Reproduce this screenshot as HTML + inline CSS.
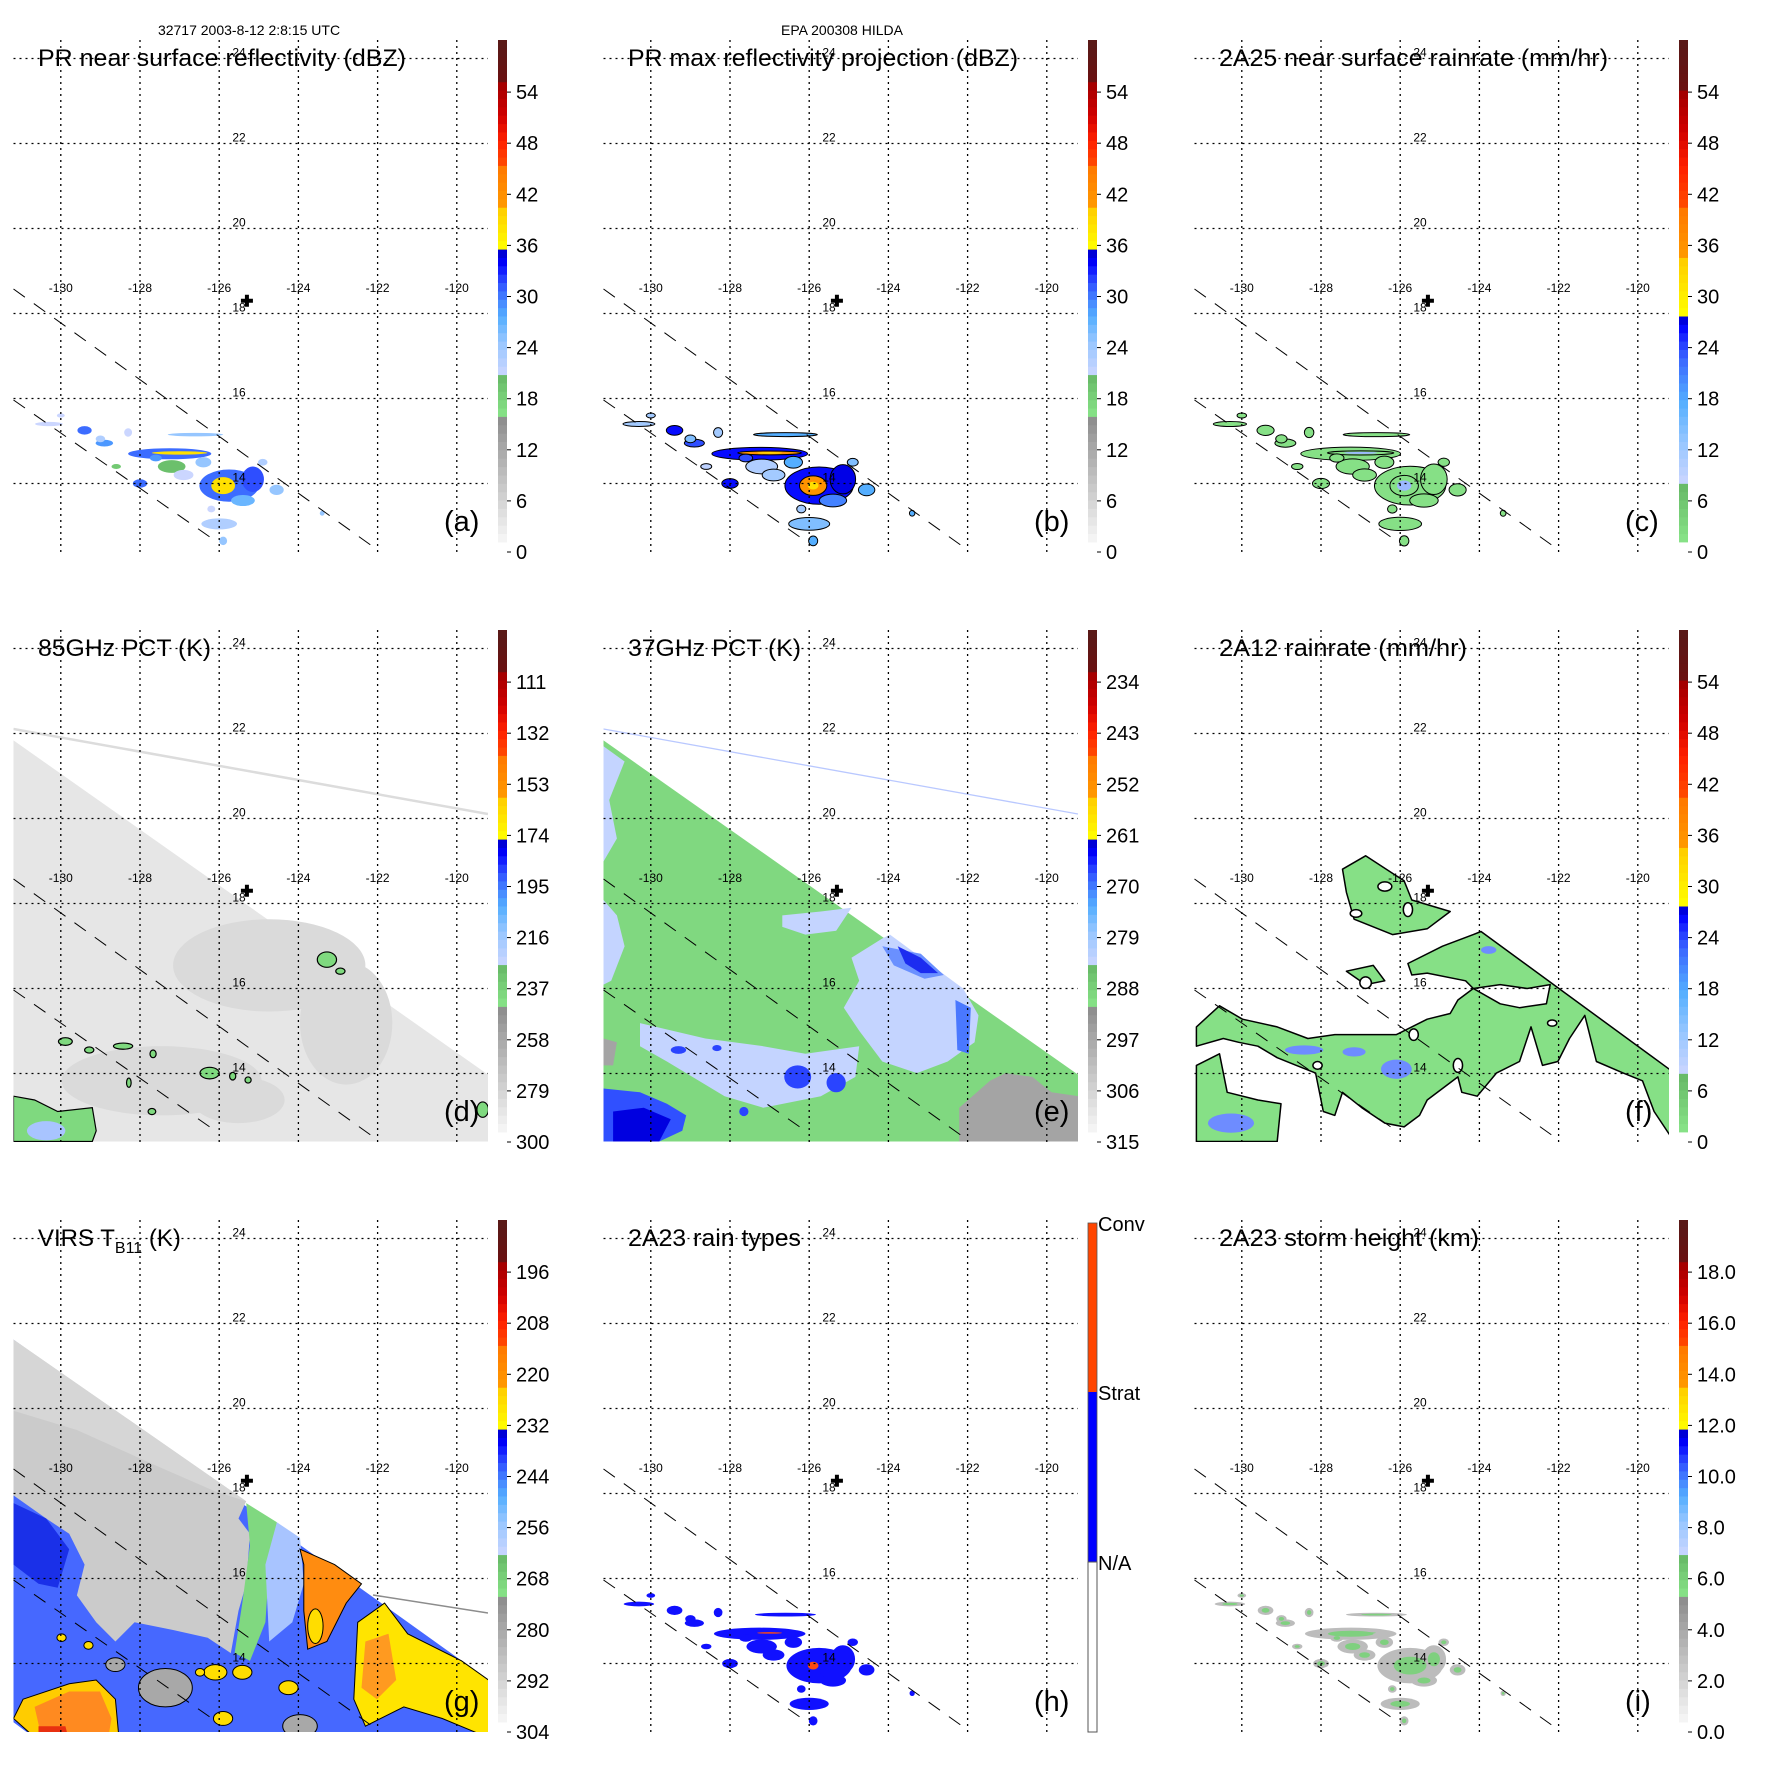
<!DOCTYPE html>
<html><head><meta charset="utf-8"><style>
html,body{margin:0;padding:0;background:#fff;}
svg{display:block;font-family:"Liberation Sans",Arial,sans-serif;}
</style></head><body>
<svg id="fig" xmlns="http://www.w3.org/2000/svg" width="1771" height="1771" viewBox="0 0 1771 1771">
<rect width="1771" height="1771" fill="#fff"/>
<text x="249" y="35" font-size="14" text-anchor="middle">32717 2003-8-12 2:8:15 UTC</text>
<text x="842" y="35" font-size="14" text-anchor="middle">EPA 200308 HILDA</text>
</svg>
<script>
// ---------------- data ----------------
const lonTicks = [-130,-128,-126,-124,-122,-120];
const latTicks = [24,22,20,18,16,14];
const labelsDbz = ["0","6","12","18","24","30","36","42","48","54"];
const labels85 = ["300","279","258","237","216","195","174","153","132","111"];
const labels37 = ["315","306","297","288","279","270","261","252","243","234"];
const labelsVirs = ["304","292","280","268","256","244","232","220","208","196"];
const labelsHt = ["0.0","2.0","4.0","6.0","8.0","10.0","12.0","14.0","16.0","18.0"];
const stormCenter = [-125.3, 18.3];
// PR cells: lon, lat, half-width(deg lon), half-height(deg lat), dBZ
const prLon = [-127.25,-127.0,-125.75,-125.9,-125.15,-126.6,-129.4,-128.0,-124.55,-126.0,-125.9,-130.3,-127.2,-128.9,-126.9,-125.4,-129.0,-128.3,-127.6,-126.4,-124.9,-123.4,-126.2,-128.6,-130.0];
const prLat = [14.7,14.72,13.95,13.95,14.1,15.15,15.25,14.0,13.85,13.05,12.65,15.4,14.4,14.95,14.2,13.6,15.05,15.2,14.6,14.5,14.5,13.3,13.4,14.4,15.6];
const prRx  = [1.05,0.7,0.75,0.3,0.28,0.7,0.18,0.18,0.18,0.45,0.1,0.35,0.35,0.22,0.25,0.3,0.12,0.1,0.15,0.2,0.12,0.06,0.1,0.12,0.1];
const prRy  = [0.13,0.04,0.38,0.2,0.3,0.04,0.1,0.1,0.12,0.13,0.1,0.05,0.15,0.08,0.12,0.13,0.08,0.1,0.08,0.12,0.08,0.06,0.08,0.06,0.05];
const prVal = [30,38,30,38,31,24,30,30,24,22,24,20,19,28,20,26,22,20,28,24,22,24,20,18,20];

// ---------------- helpers ----------------
const NS="http://www.w3.org/2000/svg";
const svg=document.getElementById('fig');
function X(lon){return 60.8+(lon+130)*39.6;}
function Y(lat){return 58.5+(24-lat)*42.5;}
function el(tag,attrs,parent){const e=document.createElementNS(NS,tag);for(const k in attrs)e.setAttribute(k,attrs[k]);parent.appendChild(e);return e;}
function hex(c){return [parseInt(c.substr(1,2),16),parseInt(c.substr(3,2),16),parseInt(c.substr(5,2),16)];}
function lerpc(a,b,t){const A=hex(a),B=hex(b);return 'rgb('+A.map((v,i)=>Math.round(v+(B[i]-v)*t)).join(',')+')';}
const stdStops=[[0,'#f8f8f8'],[0.249,'#8c8c8c'],[0.25,'#88e488'],[0.332,'#66b866'],[0.333,'#cbd6ff'],[0.4,'#96c6ff'],[0.45,'#54aeff'],[0.5,'#3c6cff'],[0.53,'#2236ff'],[0.555,'#0000ff'],[0.582,'#0000c8'],[0.583,'#ffff00'],[0.666,'#ffcc00'],[0.667,'#ff9a00'],[0.749,'#ff7800'],[0.75,'#ff4c00'],[0.8,'#ff2000'],[0.85,'#d00000'],[0.916,'#a00000'],[0.917,'#6a1010'],[1,'#581a18']];
const rainStops=[[0,'#88e488'],[0.116,'#66b866'],[0.117,'#cbd6ff'],[0.2,'#96c6ff'],[0.28,'#54aeff'],[0.36,'#3c6cff'],[0.4,'#2236ff'],[0.43,'#0000ff'],[0.449,'#0000c8'],[0.45,'#ffff00'],[0.566,'#ffcc00'],[0.567,'#ff9a00'],[0.666,'#ff7800'],[0.667,'#ff4c00'],[0.75,'#ff2000'],[0.82,'#d00000'],[0.899,'#a00000'],[0.9,'#6a1010'],[1,'#581a18']];
function cmap(stops,t){t=Math.max(0,Math.min(1,t));for(let i=0;i<stops.length-1;i++){if(t<=stops[i+1][0]){const s=(t-stops[i][0])/((stops[i+1][0]-stops[i][0])||1);return lerpc(stops[i][1],stops[i+1][1],s);}}return stops[stops.length-1][1];}
function P(pts,dy){return pts.map(p=>(p[0]/2.6).toFixed(1)+','+(p[1]/2.6+(dy||0)).toFixed(1)).join(' ');}

const origins=[[0,0],[590,0],[1181,0],[0,590],[590,590],[1181,590],[0,1180],[590,1180],[1181,1180]];
const titles=["PR near surface reflectivity (dBZ)","PR max reflectivity projection (dBZ)","2A25 near surface rainrate (mm/hr)","85GHz PCT (K)","37GHz PCT (K)","2A12 rainrate (mm/hr)",null,"2A23 rain types","2A23 storm height (km)"];
const titleW=[368,390,389,173,173,248,0,173,260];
const letters=["(a)","(b)","(c)","(d)","(e)","(f)","(g)","(h)","(i)"];
const names=["panel-a","panel-b","panel-c","panel-d","panel-e","panel-f","panel-g","panel-h","panel-i"];
const cbLabels=[labelsDbz,labelsDbz,labelsDbz,labels85,labels37,labelsDbz,labelsVirs,null,labelsHt];
const cbStops=[stdStops,stdStops,rainStops,stdStops,stdStops,rainStops,stdStops,null,stdStops];

const defs=el('defs',{},svg);
el('rect',{x:13.5,y:40,width:474.5,height:512},el('clipPath',{id:'mapclip'},defs));

function drawPanel(i){
  const g=el('g',{transform:`translate(${origins[i][0]},${origins[i][1]})`},svg);
  
  
  const data=el('g',{'clip-path':'url(#mapclip)'},g);
  
  
  fillData(i,data);
  const grid=el('g',{stroke:'#000','stroke-width':1.3,'stroke-dasharray':'2 4'},g);
  
  
  lonTicks.forEach(l=>el('line',{x1:X(l),x2:X(l),y1:40,y2:552},grid));
  latTicks.forEach(l=>el('line',{x1:13.5,x2:488,y1:Y(l),y2:Y(l)},grid));
  const sw=el('g',{stroke:'#000','stroke-width':1,'stroke-dasharray':'14 11',fill:'none'},g);
  
  
  el('line',{x1:13.5,y1:289,x2:379,y2:551},sw);
  el('line',{x1:13.5,y1:400,x2:217,y2:542},sw);
  lonTicks.forEach(l=>{const t=el('text',{x:X(l),y:292,'font-size':12,'text-anchor':'middle'},g);t.textContent=String(l);
    });
  latTicks.forEach(l=>{const t=el('text',{x:239,y:Y(l)-2,'font-size':12,'text-anchor':'middle'},g);t.textContent=String(l);
    });
  const cx=X(stormCenter[0]),cy=Y(stormCenter[1]);
  const cm=el('path',{d:`M${cx-6},${cy-2}h4v-4h4v4h4v4h-4v4h-4v-4h-4z`,fill:'#000'},g);
  
  
  if(titles[i]){const t=el('text',{x:38,y:66,'font-size':24,textLength:titleW[i],lengthAdjust:'spacingAndGlyphs'},g);t.textContent=titles[i];
    }
  else{const t=el('text',{x:38,y:66,'font-size':24},g);
    
    t.appendChild(document.createTextNode('VIRS T'));
    const s=el('tspan',{'font-size':16,dy:7},t);s.textContent='B11';
    const r=el('tspan',{dy:-7},t);r.textContent=' (K)';}
  const lt=el('text',{x:444,y:531,'font-size':29},g);lt.textContent=letters[i];
  
  const cb=el('g',{},g);
  
  
  if(cbStops[i]){
    const n=60,top=40,bot=542,h=(bot-top)/n;
    for(let k=0;k<n;k++)el('rect',{x:498,y:(bot-(k+1)*h).toFixed(2),width:9,height:(h+0.4).toFixed(2),fill:cmap(cbStops[i],(k+0.5)/n)},cb);
    cbLabels[i].forEach((s,k)=>{const y=552-k*51.1;el('line',{x1:507,x2:511,y1:y,y2:y,stroke:'#000'},cb);
      const t=el('text',{x:516,y:y+7,'font-size':20},cb);t.textContent=s;
      });
  } else {
    el('rect',{x:498,y:43,width:9,height:169,fill:'#ff4500'},cb);
    el('rect',{x:498,y:212,width:9,height:170,fill:'#0000ff'},cb);
    el('rect',{x:498,y:382,width:9,height:170,fill:'#fff',stroke:'#555','stroke-width':1},cb);
    el('rect',{x:498,y:43,width:9,height:509,fill:'none',stroke:'#555','stroke-width':0.8},cb);
    [['Conv',43],['Strat',212],['N/A',382]].forEach(a=>{const t=el('text',{x:508,y:a[1]+8,'font-size':20},cb);t.textContent=a[0];
      });
  }
}

function prCells(g,fn){
  for(let k=0;k<prLon.length;k++){
    const o=fn(k);if(!o)continue;
    const e=el('ellipse',{cx:X(prLon[k]),cy:Y(prLat[k]),rx:prRx[k]*39.6*o.s,ry:prRy[k]*42.5*o.s,fill:o.fill},g);
    if(o.stroke){e.setAttribute('stroke',o.stroke);e.setAttribute('stroke-width',1);}
    
    
  }
}

function poly(g,pts,fill,dy,extra){const p=el('polygon',Object.assign({points:P(pts,dy),fill:fill},extra||{}),g);return p;}
function ell(g,zx,zy,rx,ry,fill,dy,extra){return el('ellipse',Object.assign({cx:zx/2.6,cy:zy/2.6+(dy||0),rx:rx/2.6,ry:ry/2.6,fill:fill},extra||{}),g);}

function fillData(i,g){
  if(i===0){prCells(g,k=>({s:1,fill:cmap(stdStops,prVal[k]/60)}));}
  if(i===1){prCells(g,k=>({s:1.15,fill:cmap(stdStops,(prVal[k]+3)/60),stroke:'#000'}));
    prCells(g,k=>prVal[k]>=35?{s:0.45,fill:cmap(stdStops,38/60)}:null);}
  if(i===2){prCells(g,k=>({s:1.2,fill:'#86e086',stroke:'#000'}));
    prCells(g,k=>prVal[k]>=37?{s:0.6,fill:'#9bb8ff'}:null);}
  if(i===7){prCells(g,k=>({s:1.1,fill:'#1010ff'}));
    prCells(g,k=>prVal[k]>=37?{s:0.45,fill:'#ff4a10'}:null);}
  if(i===8){prCells(g,k=>({s:1.1,fill:'#bcbcbc'}));
    prCells(g,k=>({s:0.55,fill:'#7fd07f'}));}
  if(i===3){
    poly(g,[[35,365],[1270,1235],[1270,1408],[35,1408]],'#e6e6e6',10);
    [[700,950,250,120],[900,1100,120,160],[420,1250,260,90],[620,1300,120,60]].forEach(a=>ell(g,a[0],a[1],a[2],a[3],'#dadada',10));
    el('line',{x1:13.5,y1:139,x2:488,y2:224,stroke:'#dcdcdc','stroke-width':2.5},g);
    const gs={stroke:'#000','stroke-width':1.2};
    poly(g,[[35,1290],[90,1300],[150,1330],[240,1320],[250,1380],[240,1408],[35,1408]],'#7fd97f',10,gs);
    ell(g,120,1380,50,25,'#a8c4ff',10);
    [[170,1148,18,10],[232,1170,12,8],[320,1160,25,8],[398,1180,8,10],[545,1230,25,15],[605,1238,8,10],[645,1248,8,8],[335,1255,6,12],[395,1330,10,8],[850,935,25,20],[885,965,12,8],[1255,1325,15,20]].forEach(a=>ell(g,a[0],a[1],a[2],a[3],'#7fd97f',10,gs));
  }
  if(i===4){
    poly(g,[[35,365],[1270,1235],[1270,1408],[35,1408]],'#80d880',10);
    el('line',{x1:13.5,y1:139,x2:488,y2:224,stroke:'#b9c8ff','stroke-width':1.3},g);
    const lb='#c4d4ff';
    poly(g,[[35,380],[90,420],[50,520],[70,620],[35,680]],lb,10);
    poly(g,[[35,780],[70,820],[90,900],[55,990],[35,1000]],lb,10);
    poly(g,[[500,820],[600,810],[680,800],[640,860],[560,870],[500,850]],lb,10);
    poly(g,[[680,930],[760,880],[780,870],[970,1010],[1010,1080],[1000,1150],[930,1200],[850,1230],[760,1200],[700,1120],[660,1060],[700,990]],lb,10);
    poly(g,[[130,1100],[300,1140],[450,1160],[560,1180],[700,1160],[690,1240],[600,1290],[450,1320],[350,1290],[200,1200],[130,1160]],lb,10);
    poly(g,[[760,900],[860,920],[920,975],[870,985],[790,950]],'#6a90ff',10);
    poly(g,[[800,900],[860,930],[905,970],[860,970],[820,945]],'#1c2cf0',10);
    poly(g,[[950,1040],[990,1060],[985,1180],[955,1170]],'#4a78ff',10);
    [[540,1240,35,30],[640,1255,25,25],[330,1165,12,8],[230,1170,20,10],[400,1330,12,12],[1255,1325,15,20]].forEach(a=>ell(g,a[0],a[1],a[2],a[3],'#2a44ff',10));
    poly(g,[[35,1270],[130,1280],[200,1310],[250,1340],[240,1380],[180,1408],[35,1408]],'#3050ff',10);
    poly(g,[[60,1330],[140,1320],[210,1350],[180,1408],[60,1408]],'#0000e0',10);
    poly(g,[[960,1320],[1040,1250],[1080,1230],[1150,1240],[1200,1280],[1270,1290],[1270,1408],[960,1408]],'#a4a4a4',10);
    poly(g,[[35,1140],[70,1150],[60,1210],[35,1210]],'#a4a4a4',10);
  }
  if(i===5){
    const gs={stroke:'#000','stroke-width':1.5,'stroke-linejoin':'round'};
    poly(g,[[420,700],[480,665],[580,730],[600,780],[700,810],[640,855],[550,870],[450,830],[430,760]],'#86e086',10,gs);
    poly(g,[[40,1110],[100,1055],[160,1090],[250,1110],[330,1140],[400,1130],[480,1130],[560,1130],[640,1090],[700,1075],[720,1040],[760,1010],[740,990],[640,970],[600,975],[590,945],[680,900],[760,870],[780,862],[1290,1235],[1290,1400],[1270,1390],[1230,1330],[1200,1250],[1150,1230],[1080,1200],[1050,1080],[1010,1140],[980,1200],[940,1210],[910,1110],[880,1200],[820,1230],[770,1290],[730,1280],[720,1240],[640,1300],[620,1340],[580,1370],[530,1360],[470,1320],[420,1280],[400,1340],[370,1330],[350,1230],[300,1210],[250,1190],[200,1160],[150,1150],[110,1140],[40,1160]],'#86e086',10,gs);
    poly(g,[[40,1210],[100,1180],[120,1280],[200,1300],[260,1310],[250,1408],[40,1408]],'#86e086',10,gs);
    poly(g,[[760,1010],[830,1000],[900,1010],[960,1000],[950,1050],[880,1060],[830,1050]],'#fff',10,gs);
    poly(g,[[430,965],[500,950],[530,990],[480,1000]],'#86e086',10,gs);
    [[530,745,18,12],[590,805,12,18],[455,815,15,10],[480,995,15,15],[605,1130,12,15],[720,1210,12,18],[355,1210,12,10],[965,1100,12,8]].forEach(a=>ell(g,a[0],a[1],a[2],a[3],'#fff',10,gs));
    [[560,1220,40,25],[450,1175,30,12],[320,1170,50,12],[800,910,20,10],[130,1360,60,25]].forEach(a=>ell(g,a[0],a[1],a[2],a[3],'#6e8cff',10));
  }
  if(i===6){
    poly(g,[[35,415],[1270,1300],[1270,1458],[100,1458],[35,1410]],'#4668ff',0);
    poly(g,[[35,415],[640,835],[620,880],[650,920],[640,1050],[620,1120],[600,1230],[540,1190],[450,1170],[350,1150],[300,1200],[250,1150],[200,1080],[220,1000],[180,920],[120,880],[35,820]],'#cbcbcb',0);
    poly(g,[[35,415],[640,835],[560,810],[400,740],[200,650],[35,600]],'#d6d6d6',0);
    poly(g,[[640,840],[720,890],[700,1000],[690,1150],[650,1250],[610,1230],[630,1100],[650,950]],'#80d880',0);
    poly(g,[[720,890],[780,930],[790,1050],[760,1150],[700,1200],[690,1000]],'#a8c4ff',0);
    poly(g,[[35,840],[120,880],[180,960],[150,1060],[100,1050],[35,1000]],'#1a30e8',0);
    poly(g,[[780,960],[870,1000],[940,1050],[900,1100],[850,1200],[800,1220],[790,1120],[790,1000]],'#ff8c10',0,{stroke:'#000','stroke-width':1});
    poly(g,[[930,1150],[1000,1100],[1060,1180],[1200,1250],[1270,1300],[1270,1450],[1150,1400],[1050,1370],[950,1420],[920,1350]],'#ffe400',0,{stroke:'#000','stroke-width':1});
    poly(g,[[950,1200],[1010,1180],[1030,1300],[980,1350],[940,1320]],'#ff9a20',0);
    poly(g,[[60,1350],[180,1310],[250,1300],[300,1350],[310,1458],[100,1458],[35,1400]],'#ffcc00',0,{stroke:'#000','stroke-width':1});
    poly(g,[[90,1370],[180,1330],[260,1330],[290,1400],[280,1458],[110,1458]],'#ff8a20',0);
    poly(g,[[100,1420],[170,1420],[180,1458],[100,1458]],'#e83010',0);
    [[560,1280,30,20],[630,1280,25,18],[580,1400,25,18],[400,1300,20,18],[520,1280,12,10],[750,1320,25,18],[820,1160,20,45],[230,1210,12,10],[160,1190,12,10]].forEach(a=>ell(g,a[0],a[1],a[2],a[3],'#ffdd00',0,{stroke:'#000','stroke-width':1}));
    [[430,1320,70,50],[780,1420,45,30],[300,1260,25,18]].forEach(a=>ell(g,a[0],a[1],a[2],a[3],'#a8a8a8',0,{stroke:'#000','stroke-width':1}));
    el('line',{x1:373,y1:415,x2:488,y2:433,stroke:'#8c8c8c','stroke-width':1.6},g);
  }
}
for(let i=0;i<9;i++)drawPanel(i);
</script>
</body></html>
